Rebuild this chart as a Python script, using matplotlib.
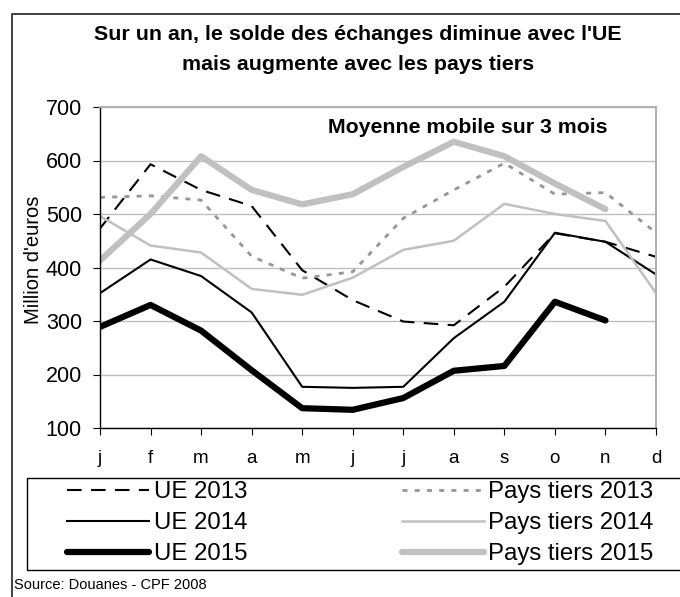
import matplotlib
matplotlib.use("Agg")
import matplotlib.pyplot as plt
from matplotlib.patches import Rectangle
from matplotlib.lines import Line2D

plt.rcParams['font.family'] = ['Liberation Sans', 'DejaVu Sans']

months = ['j', 'f', 'm', 'a', 'm', 'j', 'j', 'a', 's', 'o', 'n', 'd']

ue_2013 = [473, 593, 545, 515, 395, 339, 299, 292, 364, 464, 448, 420]
ue_2014 = [352, 415, 384, 316, 177, 175, 177, 268, 336, 465, 448, 387]
ue_2015 = [289, 330, 282, 208, 137, 134, 156, 207, 216, 336, 301]
pt_2013 = [531, 534, 526, 421, 380, 392, 492, 545, 595, 537, 540, 465]
pt_2014 = [496, 441, 428, 360, 349, 381, 433, 450, 519, 500, 487, 352]
pt_2015 = [413, 500, 608, 545, 518, 537, 588, 635, 608, 557, 509]

fig = plt.figure(figsize=(6.8, 5.97), dpi=100)
ax = fig.add_axes([100/680, 1-428/597, 556/680, 321/597])

x = list(range(len(months)))

ax.plot(x, ue_2013, color='black', lw=1.5, dashes=(7, 4.5), label='UE 2013')
ax.plot(x, pt_2013, color='#969696', lw=2, dashes=(1.8, 2.6), label='Pays tiers 2013')
ax.plot(x, ue_2014, color='black', lw=1.5, label='UE 2014')
ax.plot(x, pt_2014, color='#c0c0c0', lw=1.8, label='Pays tiers 2014')
ax.plot(x[:len(ue_2015)], ue_2015, color='black', lw=4.5, solid_capstyle='round',
        solid_joinstyle='round', label='UE 2015')
ax.plot(x[:len(pt_2015)], pt_2015, color='#c0c0c0', lw=4.5, solid_capstyle='round',
        solid_joinstyle='round', label='Pays tiers 2015')

ax.set_xlim(0, 11)
ax.set_ylim(100, 700)
ax.set_yticks(range(100, 701, 100))
ax.set_xticks(x)
ax.set_xticklabels(months)
ax.yaxis.grid(True, color='#c0c0c0', lw=1)
ax.set_axisbelow(True)
for s in ['top', 'right']:
    ax.spines[s].set_color('#b0b0b0')
    ax.spines[s].set_linewidth(1.5)
for s in ['left', 'bottom']:
    ax.spines[s].set_color('black')
    ax.spines[s].set_linewidth(1)
ax.tick_params(axis='x', direction='out', length=5, labelsize=13.5, pad=11)
ax.tick_params(axis='y', direction='out', length=5, labelsize=15.5, pad=8)
ax.set_ylabel("Million d'euros", fontsize=14.5, labelpad=2)
ax.yaxis.label.set_y(0.523)

ax.text(0.41, 0.935, 'Moyenne mobile sur 3 mois', transform=ax.transAxes,
        fontsize=15.3, fontweight='bold', va='center', ha='left')

fig.text(358/680, 1-35/597, "Sur un an, le solde des échanges diminue avec l'UE",
         ha='center', va='center', fontsize=15.4, fontweight='bold')
fig.text(358/680, 1-65/597, "mais augmente avec les pays tiers",
         ha='center', va='center', fontsize=15.4, fontweight='bold')

# order: left column UE, right column Pays tiers
h, l = ax.get_legend_handles_labels()
order = [0, 2, 4, 1, 3, 5]
fig.legend([h[i] for i in order], [l[i] for i in order], ncol=2, frameon=False,
           loc='upper left', bbox_to_anchor=(67/680, 1-481/597), borderpad=0,
           borderaxespad=0, fontsize=17.3, handlelength=3.4, handletextpad=0.2,
           columnspacing=6.45, labelspacing=0.38)

fig.patches.append(Rectangle((27/680, 1-570/597), 700/680, 92/597, transform=fig.transFigure,
                             fill=False, edgecolor='black', lw=1))
fig.lines.append(Line2D([12/680, 12/680, 1.01], [-0.01, 1-14/597, 1-14/597],
                        transform=fig.transFigure, color='#333333', lw=1.3))

fig.text(14/680, 1-585/597, 'Source: Douanes - CPF 2008', fontsize=10.5, va='center', ha='left')

fig.savefig('out.png', dpi=100)
